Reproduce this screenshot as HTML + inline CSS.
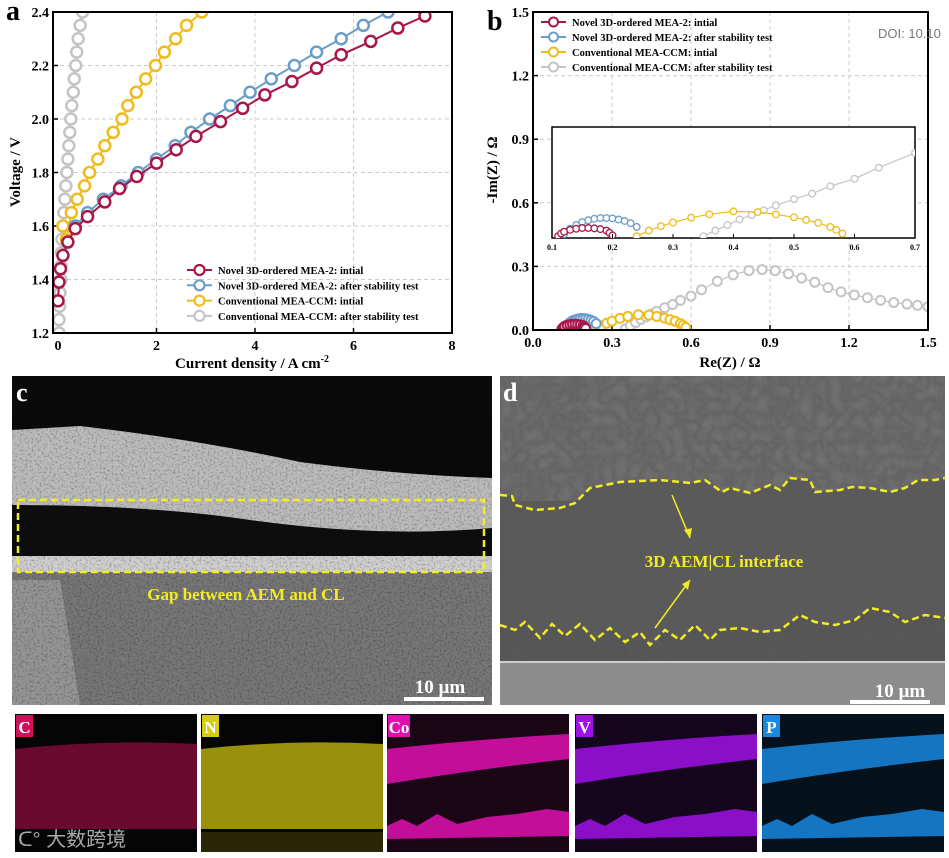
<!DOCTYPE html>
<html><head><meta charset="utf-8"><style>
body{margin:0;background:#fff;width:949px;height:858px;overflow:hidden;font-family:"Liberation Serif",serif}
svg{position:absolute;left:0;top:0}
</style></head><body>
<svg width="949" height="858" viewBox="0 0 949 858" id="fig" font-family="Liberation Serif, serif">
<defs>
<filter id="flakeTop" filterUnits="userSpaceOnUse" x="500" y="376" width="445" height="125"><feTurbulence type="turbulence" baseFrequency="0.07" numOctaves="3" seed="7"/><feColorMatrix type="matrix" values="0 0 0 0 0.12 0 0 0 0 0.12 0 0 0 0 0.12 0 0 0 -1.6 1.0"/></filter>
<filter id="flakeBot" filterUnits="userSpaceOnUse" x="500" y="620" width="445" height="42"><feTurbulence type="turbulence" baseFrequency="0.1" numOctaves="3" seed="9"/><feColorMatrix type="matrix" values="0 0 0 0 0.1 0 0 0 0 0.1 0 0 0 0 0.1 0 0 0 -1.6 1.0"/></filter>
<filter id="grain" filterUnits="userSpaceOnUse" x="12" y="420" width="480" height="285"><feTurbulence type="fractalNoise" baseFrequency="0.5" numOctaves="1" seed="2"/><feColorMatrix type="matrix" values="0 0 0 0 0 0 0 0 0 0 0 0 0 0 0 0 0 0 -2 1.1"/></filter>
<clipPath id="clipA"><rect x="53" y="12" width="399" height="321"/></clipPath>
<clipPath id="clipB"><rect x="533" y="12" width="395" height="318"/></clipPath>
<clipPath id="clipI"><rect x="552" y="127" width="363" height="111"/></clipPath>
<clipPath id="clipC"><rect x="12" y="376" width="480" height="329"/></clipPath>
<clipPath id="clipD"><rect x="500" y="376" width="445" height="329"/></clipPath>
</defs>
<g id="panelA"></g>
<g id="panelB"></g>

<g clip-path="url(#clipC)">
<rect x="12" y="376" width="480" height="329" fill="#0a0a0a"/>
<path d="M12,430 L80,426 Q200,440 300,462 Q400,475 492,478 L492,705 L12,705Z" fill="#bcbcbc"/>
<path d="M12,505 Q150,505 250,520 Q380,538 492,528 L492,556 L12,556Z" fill="#0e0e0e"/>
<path d="M12,556 L492,556 L492,572 L12,572Z" fill="#d0d0d0"/>
<path d="M12,572 L492,572 L492,705 L12,705Z" fill="#777"/>
<path d="M12,580 L60,580 L80,705 L12,705Z" fill="#959595"/>
<rect x="12" y="420" width="480" height="285" filter="url(#grain)" opacity="0.35"/>
<rect x="18" y="500" width="466" height="72" fill="none" stroke="#f2ec25" stroke-width="2.5" stroke-dasharray="7,4"/>
<text x="246" y="600" text-anchor="middle" font-size="17" font-weight="bold" fill="#f2ec25">Gap between AEM and CL</text>
<text x="440" y="693" text-anchor="middle" font-size="19" font-weight="bold" fill="#fff">10 µm</text>
<rect x="404" y="697" width="80" height="4" fill="#fff"/>
<text x="16" y="401" font-size="26" font-weight="bold" fill="#fff">c</text>
</g>

<g clip-path="url(#clipD)">
<rect x="500" y="376" width="445" height="329" fill="#5a5a5a"/>
<rect x="500" y="376" width="445" height="125" fill="#707070"/>
<rect x="500" y="376" width="445" height="125" filter="url(#flakeTop)" opacity="0.95"/>
<path d="M500,495 L512,496 L515,505 L535,510 L560,508 L575,503 L590,488 L620,482 L660,480 L690,483 L705,480 L722,492 L730,488 L750,493 L770,485 L780,490 L790,478 L810,480 L815,492 L840,490 L852,487 L870,488 L890,492 L905,488 L918,480 L935,480 L945,478 L945,625 L500,625Z" fill="#5a5a5a"/>
<path d="M500,625 L515,630 L525,622 L540,638 L552,624 L565,636 L580,624 L595,640 L610,628 L625,642 L640,632 L650,645 L665,630 L680,640 L695,625 L710,640 L720,630 L740,628 L760,632 L780,630 L800,615 L815,622 L835,625 L855,620 L870,608 L890,612 L905,622 L925,615 L945,618 L945,662 L500,662Z" fill="#555"/>
<rect x="500" y="620" width="445" height="42" filter="url(#flakeBot)" opacity="0.8"/>
<path d="M500,625 L515,630 L525,622 L540,638 L552,624 L565,636 L580,624 L595,640 L610,628 L625,642 L640,632 L650,645 L665,630 L680,640 L695,625 L710,640 L720,630 L740,628 L760,632 L780,630 L800,615 L815,622 L835,625 L855,620 L870,608 L890,612 L905,622 L925,615 L945,618 L945,600 L500,600Z" fill="#5a5a5a"/>
<rect x="500" y="662" width="445" height="43" fill="#8c8c8c"/>
<line x1="500" y1="662" x2="945" y2="662" stroke="#ccc" stroke-width="2"/>
<path d="M500,495 L512,496 L515,505 L535,510 L560,508 L575,503 L590,488 L620,482 L660,480 L690,483 L705,480 L722,492 L730,488 L750,493 L770,485 L780,490 L790,478 L810,480 L815,492 L840,490 L852,487 L870,488 L890,492 L905,488 L918,480 L935,480 L945,478" fill="none" stroke="#f2ec25" stroke-width="2.5" stroke-dasharray="7,4"/>
<path d="M500,625 L515,630 L525,622 L540,638 L552,624 L565,636 L580,624 L595,640 L610,628 L625,642 L640,632 L650,645 L665,630 L680,640 L695,625 L710,640 L720,630 L740,628 L760,632 L780,630 L800,615 L815,622 L835,625 L855,620 L870,608 L890,612 L905,622 L925,615 L945,618" fill="none" stroke="#f2ec25" stroke-width="2.5" stroke-dasharray="7,4"/>
<line x1="672" y1="495" x2="690" y2="538" stroke="#f2ec25" stroke-width="1.5"/>
<polygon points="690,538 684,530 692,528" fill="#f2ec25"/>
<line x1="655" y1="628" x2="690" y2="580" stroke="#f2ec25" stroke-width="1.5"/>
<polygon points="690,580 682,584 688,590" fill="#f2ec25"/>
<text x="724" y="567" text-anchor="middle" font-size="17" font-weight="bold" fill="#f2ec25">3D AEM|CL interface</text>
<text x="900" y="697" text-anchor="middle" font-size="19" font-weight="bold" fill="#fff">10 µm</text>
<rect x="850" y="700" width="80" height="4" fill="#fff"/>
<text x="503" y="401" font-size="26" font-weight="bold" fill="#fff">d</text>
</g>

<g id="eds"></g>

<text x="878" y="38" font-family="Liberation Sans, sans-serif" font-size="13" fill="#777">DOI: 10.10</text>
<text x="18" y="846" font-family="Liberation Sans, Noto Sans CJK SC, sans-serif" font-size="20" fill="#bbb" opacity="0.9">ᑕ° 大数跨境</text>
</svg>
<script>
const NS='http://www.w3.org/2000/svg';
function mk(parent,tag,attrs,text){const e=document.createElementNS(NS,tag);for(const k in attrs)e.setAttribute(k,attrs[k]);if(text!==undefined)e.textContent=text;parent.appendChild(e);return e;}

const aSeriesNames=['Novel 3D-ordered MEA-2: intial','Novel 3D-ordered MEA-2: after stability test','Conventional MEA-CCM: intial','Conventional MEA-CCM: after stability test'];
const aColors=['#a8164a','#6a9ec9','#f0bb1c','#c4c4c4'];
const redJ=[0.0,0.02,0.05,0.1,0.2,0.35,0.6,0.95,1.25,1.6,2.0,2.4,2.8,3.3,3.75,4.2,4.75,5.25,5.75,6.35,6.9,7.45];
const redV=[1.32,1.39,1.44,1.49,1.54,1.59,1.635,1.69,1.74,1.785,1.835,1.885,1.935,1.99,2.04,2.09,2.14,2.19,2.24,2.29,2.34,2.385];
const blueJ=[0.35,0.6,0.92,1.28,1.63,2.0,2.38,2.7,3.08,3.5,3.9,4.33,4.8,5.25,5.75,6.2,6.7];
const blueV=[1.60,1.65,1.70,1.75,1.80,1.85,1.90,1.95,2.0,2.05,2.1,2.15,2.2,2.25,2.3,2.35,2.4];
const yelJ=[0.1,0.17,0.27,0.39,0.54,0.64,0.81,0.95,1.12,1.30,1.42,1.59,1.78,1.98,2.16,2.39,2.61,2.92];
const yelV=[1.6,1.55,1.65,1.7,1.75,1.8,1.85,1.9,1.95,2.0,2.05,2.1,2.15,2.2,2.25,2.3,2.35,2.4];
const grayJ=[0.02,0.02,0.03,0.04,0.06,0.06,0.07,0.08,0.1,0.12,0.14,0.16,0.18,0.2,0.22,0.24,0.26,0.28,0.31,0.33,0.36,0.38,0.41,0.45,0.5];
const grayV=[1.2,1.25,1.3,1.35,1.4,1.45,1.5,1.55,1.6,1.65,1.7,1.75,1.8,1.85,1.9,1.95,2.0,2.05,2.1,2.15,2.2,2.25,2.3,2.35,2.4];
const aXTicks=[0,2,4,6,8];
const aYTicks=[1.2,1.4,1.6,1.8,2.0,2.2,2.4];

const redRe=[0.11,0.115,0.12,0.13,0.14,0.15,0.16,0.17,0.18,0.19,0.195,0.2];
const redIm=[0.005,0.012,0.017,0.022,0.025,0.027,0.027,0.026,0.024,0.02,0.014,0.007];
const blueRe=[0.12,0.13,0.14,0.15,0.16,0.17,0.18,0.19,0.2,0.21,0.22,0.23,0.24];
const blueIm=[0.01,0.025,0.035,0.043,0.048,0.052,0.054,0.054,0.053,0.05,0.046,0.04,0.03];
const yelRe=[0.24,0.26,0.28,0.30,0.33,0.36,0.40,0.44,0.47,0.50,0.52,0.54,0.56,0.57,0.58];
const yelIm=[0.005,0.02,0.032,0.042,0.055,0.064,0.072,0.07,0.064,0.056,0.049,0.041,0.03,0.022,0.012];
const grayRe=[0.35,0.37,0.39,0.41,0.43,0.45,0.47,0.50,0.53,0.56,0.60,0.64,0.70,0.76,0.82,0.87,0.92,0.97,1.02,1.07,1.12,1.17,1.22,1.27,1.32,1.37,1.42,1.46,1.5];
const grayIm=[0.005,0.02,0.035,0.05,0.062,0.075,0.088,0.105,0.12,0.14,0.16,0.19,0.23,0.26,0.28,0.285,0.28,0.265,0.245,0.225,0.2,0.18,0.165,0.152,0.14,0.13,0.122,0.116,0.11];
const bXTicks=[0.0,0.3,0.6,0.9,1.2,1.5];
const bYTicks=[0.0,0.3,0.6,0.9,1.2,1.5];
const insetXTicks=[0.1,0.2,0.3,0.4,0.5,0.6,0.7];

const A=document.getElementById('panelA');
const ax=v=>58+v*(452-58)/8, ay=v=>333-(v-1.2)*(333-12)/1.2;
aXTicks.forEach(t=>{if(t>0&&t<8){const g=mk(A,'line',{x1:ax(t),x2:ax(t),y1:12,y2:333,stroke:'#ccc','stroke-dasharray':'4,3'});}
 const l=mk(A,'text',{x:ax(t),y:350,'text-anchor':'middle','font-size':14,'font-weight':'bold'},String(t));
 mk(A,'line',{x1:ax(t),x2:ax(t),y1:333,y2:328,stroke:'#000','stroke-width':1.5});});
aYTicks.forEach(t=>{if(t>1.2&&t<2.4){const g=mk(A,'line',{x1:53,x2:452,y1:ay(t),y2:ay(t),stroke:'#ccc','stroke-dasharray':'4,3'});}
 const l=mk(A,'text',{x:49,y:ay(t)+5,'text-anchor':'end','font-size':14,'font-weight':'bold'},t.toFixed(1));
 mk(A,'line',{x1:53,x2:58,y1:ay(t),y2:ay(t),stroke:'#000','stroke-width':1.5});});
const aData=[[redJ,redV],[blueJ,blueV],[yelJ,yelV],[grayJ,grayV]];
const gA=mk(A,'g',{'clip-path':'url(#clipA)'});
[3,2,1,0].forEach(i=>{const [xs,ys]=aData[i];const s=mk(gA,'g',{});
 mk(s,'polyline',{points:xs.map((x,k)=>ax(x)+','+ay(ys[k])).join(' '),fill:'none',stroke:aColors[i],'stroke-width':2});
 xs.forEach((x,k)=>{const c=mk(s,'circle',{cx:ax(x),cy:ay(ys[k]),r:5.5,fill:'#fff',stroke:aColors[i],'stroke-width':2.5});});});
const fa=mk(A,'rect',{x:53,y:12,width:399,height:321,fill:'none',stroke:'#000','stroke-width':2});
let t=mk(A,'text',{x:252,y:368,'text-anchor':'middle','font-size':15,'font-weight':'bold'},'Current density / A cm');
mk(t,'tspan',{dy:-6,'font-size':10},'-2');
t=mk(A,'text',{transform:'translate(20,172) rotate(-90)','text-anchor':'middle','font-size':15,'font-weight':'bold'},'Voltage / V');
t=mk(A,'text',{x:6,y:20,'font-size':28,'font-weight':'bold'},'a');
aSeriesNames.forEach((n,i)=>{const y=270+i*15.3;const g=mk(A,'g',{});
 mk(g,'line',{x1:187,x2:212,y1:y,y2:y,stroke:aColors[i],'stroke-width':2});mk(g,'circle',{cx:199.5,cy:y,r:5,fill:'#fff',stroke:aColors[i],'stroke-width':2.2});
 mk(g,'text',{x:218,y:y+4,'font-size':10.5,'font-weight':'bold'},n);});

const B=document.getElementById('panelB');
const bx=v=>533+v*(928-533)/1.5, by=v=>330-v*(330-12)/1.5;
bXTicks.forEach(v=>{if(v>0&&v<1.5){const g=mk(B,'line',{x1:bx(v),x2:bx(v),y1:12,y2:330,stroke:'#ccc','stroke-dasharray':'4,3'});}
 const l=mk(B,'text',{x:bx(v),y:347,'text-anchor':'middle','font-size':14,'font-weight':'bold'},v.toFixed(1));
 mk(B,'line',{x1:bx(v),x2:bx(v),y1:330,y2:325,stroke:'#000','stroke-width':1.5});});
bYTicks.forEach(v=>{if(v>0&&v<1.5){const g=mk(B,'line',{x1:533,x2:928,y1:by(v),y2:by(v),stroke:'#ccc','stroke-dasharray':'4,3'});}
 const l=mk(B,'text',{x:529,y:by(v)+5,'text-anchor':'end','font-size':14,'font-weight':'bold'},v.toFixed(1));
 mk(B,'line',{x1:533,x2:538,y1:by(v),y2:by(v),stroke:'#000','stroke-width':1.5});});
const bData=[[redRe,redIm],[blueRe,blueIm],[yelRe,yelIm],[grayRe,grayIm]];
function drawEIS(parent,fx,fy,r,sw,name){[3,2,1,0].forEach(i=>{const [xs,ys]=bData[i];const s=mk(parent,'g',{});
 mk(s,'polyline',{points:xs.map((x,k)=>fx(x)+','+fy(ys[k])).join(' '),fill:'none',stroke:aColors[i],'stroke-width':1.2});
 xs.forEach((x,k)=>{const c=mk(s,'circle',{cx:fx(x),cy:fy(ys[k]),r:r,fill:'#fff',stroke:aColors[i],'stroke-width':sw});});});}
drawEIS(mk(B,'g',{'clip-path':'url(#clipB)'}),bx,by,4.5,2,'eis-series');
const ix=v=>552+(v-0.1)*(915-552)/0.6, iy=v=>238-v*(238-127)/0.3;
const ir=mk(B,'rect',{x:552,y:127,width:363,height:111,fill:'#fff',stroke:'#000','stroke-width':1.5});
drawEIS(mk(B,'g',{'clip-path':'url(#clipI)'}),ix,iy,3.3,1.3,'inset-series');
insetXTicks.forEach(v=>{const l=mk(B,'text',{x:ix(v),y:250,'text-anchor':'middle','font-size':8,'font-weight':'bold'},v.toFixed(1));
 mk(B,'line',{x1:ix(v),x2:ix(v),y1:238,y2:234,stroke:'#000'});});
const fb=mk(B,'rect',{x:533,y:12,width:395,height:318,fill:'none',stroke:'#000','stroke-width':2});
t=mk(B,'text',{x:730,y:367,'text-anchor':'middle','font-size':15,'font-weight':'bold'},'Re(Z) / Ω');
t=mk(B,'text',{transform:'translate(497,170) rotate(-90)','text-anchor':'middle','font-size':15,'font-weight':'bold'},'-Im(Z) / Ω');
t=mk(B,'text',{x:487,y:30,'font-size':28,'font-weight':'bold'},'b');
aSeriesNames.forEach((n,i)=>{const y=22+i*15;const g=mk(B,'g',{});
 mk(g,'line',{x1:541,x2:566,y1:y,y2:y,stroke:aColors[i],'stroke-width':2});mk(g,'circle',{cx:553.5,cy:y,r:4.5,fill:'#fff',stroke:aColors[i],'stroke-width':2});
 mk(g,'text',{x:572,y:y+4,'font-size':10.5,'font-weight':'bold'},n);});

const E=document.getElementById('eds');
const edsEls=['C','N','Co','V','P'];
const edsCol=['#d0105a','#d8cc10','#e010b0','#a010e8','#1888e0'];
const edsX=[15,201,387,575,762];
edsEls.forEach((el,i)=>{const x=edsX[i],w=182,y=714,h=138;const g=mk(E,'g',{});
 mk(g,'rect',{x:x,y:y,width:w,height:h,fill:'#050505'});
 if(i<2){mk(g,'path',{d:`M${x},${y+35} Q${x+w/2},${y+25} ${x+w},${y+30} L${x+w},${y+115} L${x},${y+115}Z`,fill:edsCol[i],opacity:i==0?0.5:0.7});
   if(i==1)mk(g,'rect',{x:x,y:y+118,width:w,height:20,fill:'#2a2706'});}
 else{const c=edsCol[i];mk(g,'rect',{x:x,y:y,width:w,height:h,fill:c,opacity:0.1});
   mk(g,'path',{d:`M${x},${y+35} Q${x+w/2},${y+25} ${x+w},${y+20} L${x+w},${y+45} Q${x+w/2},${y+55} ${x},${y+70}Z`,fill:c,opacity:0.85});
   mk(g,'path',{d:`M${x},${y+112} L${x+15},${y+105} L${x+30},${y+112} L${x+50},${y+100} L${x+70},${y+110} L${x+100},${y+103} L${x+130},${y+100} L${x+160},${y+95} L${x+w},${y+98} L${x+w},${y+122} L${x},${y+125}Z`,fill:c,opacity:0.85});}
 const lw=el.length>1?22:17;mk(g,'rect',{x:x+1,y:y+1,width:lw,height:22,fill:edsCol[i]});
 mk(g,'text',{x:x+1+lw/2,y:y+19,'text-anchor':'middle','font-size':17,'font-weight':'bold',fill:'#fff'},el);});
</script>
</body></html>
